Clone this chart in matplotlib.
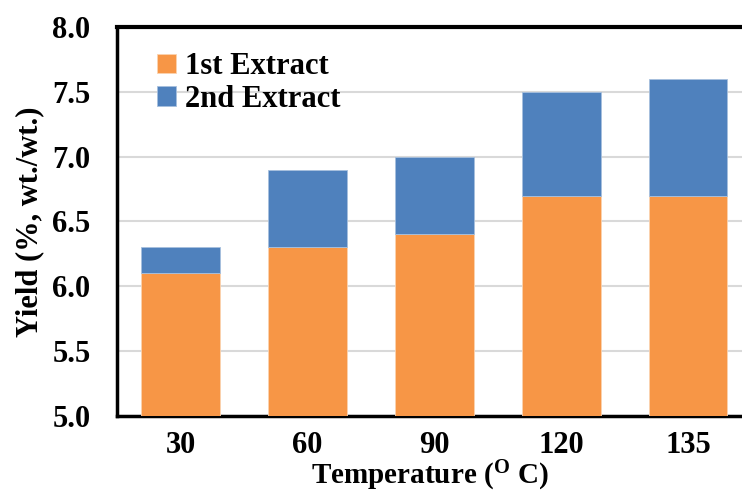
import matplotlib
matplotlib.use("Agg")
import matplotlib.pyplot as plt
import numpy as np

# Data
temps = ["30", "60", "90", "120", "135"]
first_extract = [6.1, 6.3, 6.4, 6.7, 6.7]
second_extract = [0.2, 0.6, 0.6, 0.8, 0.9]
y_ticks = [5.0, 5.5, 6.0, 6.5, 7.0, 7.5, 8.0]

plt.rcParams['font.family'] = ['Liberation Serif', 'DejaVu Serif']
plt.rcParams['font.weight'] = 'bold'
plt.rcParams['mathtext.fontset'] = 'custom'
plt.rcParams['mathtext.rm'] = 'Liberation Serif:bold'
plt.rcParams['mathtext.bf'] = 'Liberation Serif:bold'

fs = 22
orange = "#F79646"
blue = "#4F81BD"

fig = plt.figure(figsize=(7.42, 4.96), dpi=100)
ax = fig.add_axes([0.1577, 0.1613, 0.8423, 0.7843])

x = np.arange(len(temps))
ax.bar(x, first_extract, width=0.62, color=orange, edgecolor="#FBD3B0",
       linewidth=0.6, label="1st Extract", zorder=3)
ax.bar(x, second_extract, width=0.62, bottom=first_extract, color=blue,
       edgecolor="#A7C0DE", linewidth=0.6, label="2nd Extract", zorder=3)

ax.set_ylim(5.0, 8.0)
ax.set_xlim(-0.5, 4.425)
ax.set_yticks(y_ticks)
ax.set_yticklabels([f"{v:.1f}" for v in y_ticks], fontsize=fs, fontweight='bold')
ax.set_xticks(x)
ax.set_xticklabels(temps, fontsize=fs, fontweight='bold')
ax.tick_params(axis='y', length=0, pad=19)
ax.tick_params(axis='x', length=0, pad=11)

ax.yaxis.grid(True, color="#D9D9D9", linewidth=1.5, zorder=0)
ax.set_axisbelow(True)

for side in ['left', 'bottom']:
    ax.spines[side].set_linewidth(2.5)
    ax.spines[side].set_color('black')
ax.spines['top'].set_linewidth(3)
ax.spines['top'].set_color('black')
ax.spines['right'].set_visible(False)

ax.set_xlabel(r"Temperature ($\mathrm{^{O}}$ C)", fontsize=21, fontweight='bold',
              labelpad=-1)
ax.set_ylabel("Yield (%, wt./wt.)", fontsize=fs, fontweight='bold', labelpad=6)

ax.legend(loc='upper left', bbox_to_anchor=(0.04, 0.975), frameon=False,
          prop={'weight': 'bold', 'size': fs},
          handlelength=0.6, handleheight=0.6, handletextpad=0.3,
          labelspacing=0.12, borderpad=0)

fig.savefig("out.png", dpi=100)
